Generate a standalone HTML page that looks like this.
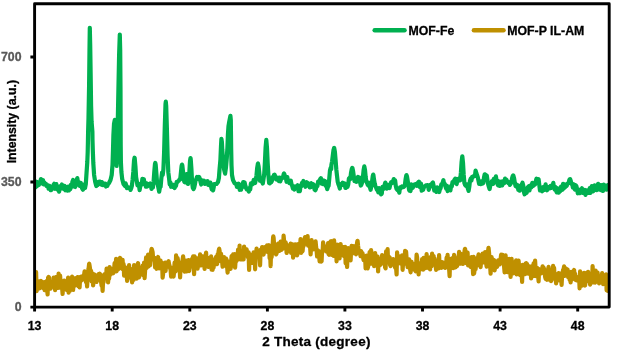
<!DOCTYPE html>
<html><head><meta charset="utf-8"><style>
html,body{margin:0;padding:0;background:#fff;}
body{width:629px;height:360px;overflow:hidden;}
svg{display:block;}
text{font-family:"Liberation Sans",Arial,sans-serif;font-weight:bold;stroke:currentColor;stroke-width:0.3px;}
</style></head><body>
<svg width="629" height="360" viewBox="0 0 629 360">
<rect x="0" y="0" width="629" height="360" fill="#fff"/>
<defs><clipPath id="pa"><rect x="34.6" y="0" width="574.1" height="320"/></clipPath></defs>
<g fill="none" stroke-linejoin="round" stroke-linecap="round" stroke-width="4.2" clip-path="url(#pa)">
<polyline stroke="#BF9000" points="34.6,281.9 35.1,279.4 35.6,280.6 36.1,272.0 36.6,291.2 37.1,288.4 37.6,281.9 38.1,287.0 38.6,284.9 39.1,281.3 39.6,288.3 40.1,282.7 40.6,282.8 41.1,281.0 41.6,286.8 42.1,284.6 42.6,287.8 43.1,282.8 43.6,286.4 44.1,282.0 44.6,290.1 45.1,287.3 45.6,287.7 46.1,287.8 46.6,281.2 47.1,289.0 47.6,294.5 48.1,277.6 48.6,276.9 49.1,277.7 49.6,288.0 50.1,284.5 50.6,288.6 51.1,286.8 51.6,284.3 52.1,284.4 52.6,282.2 53.1,286.7 53.6,277.5 54.1,280.5 54.6,283.3 55.1,290.1 55.6,278.6 56.1,277.1 56.6,279.5 57.1,286.4 57.6,280.9 58.1,288.0 58.6,273.6 59.1,287.1 59.6,286.7 60.1,275.7 60.6,283.0 61.1,288.0 61.6,283.2 62.1,287.5 62.6,294.0 63.1,284.8 63.6,282.5 64.1,280.6 64.6,287.2 65.1,283.8 65.6,284.6 66.1,285.7 66.6,289.8 67.1,282.9 67.6,281.5 68.1,277.7 68.6,292.6 69.1,286.0 69.6,291.0 70.1,282.9 70.6,279.5 71.1,284.8 71.6,282.2 72.1,276.7 72.6,278.2 73.1,290.0 73.6,283.5 74.1,283.6 74.6,280.4 75.1,278.4 75.6,285.5 76.1,280.9 76.6,277.9 77.1,280.7 77.6,277.2 78.1,282.0 78.6,286.2 79.1,277.3 79.6,287.5 80.1,277.9 80.6,281.3 81.1,276.5 81.6,279.0 82.1,279.9 82.6,277.4 83.1,275.9 83.6,275.7 84.1,274.8 84.6,271.4 85.1,277.3 85.6,280.2 86.1,282.3 86.6,280.9 87.1,286.5 87.6,277.2 88.1,272.0 88.6,268.4 89.1,263.9 89.2,263.8 89.6,265.7 90.1,269.4 90.6,275.8 91.1,270.9 91.6,281.4 92.1,277.3 92.6,273.7 93.1,285.5 93.6,281.4 94.1,278.2 94.6,274.6 95.1,277.8 95.6,277.4 96.1,281.5 96.6,281.9 97.1,275.4 97.6,276.1 98.1,276.4 98.6,274.1 99.1,276.1 99.6,274.7 100.0,273.8 100.1,274.5 100.6,280.6 101.1,281.9 101.6,285.6 102.1,280.9 102.6,291.0 103.1,280.6 103.6,282.1 104.1,274.6 104.6,274.2 105.1,277.8 105.6,274.8 106.1,277.7 106.6,268.7 107.1,278.3 107.6,270.9 108.1,282.3 108.6,272.8 109.1,278.7 109.6,267.0 110.1,274.8 110.6,268.4 111.1,269.7 111.6,271.5 112.1,269.5 112.6,271.6 113.1,273.3 113.6,272.6 114.1,269.1 114.6,263.1 115.1,265.3 115.6,267.7 116.1,258.8 116.6,271.3 117.1,266.6 117.6,266.2 118.1,269.5 118.6,266.5 119.1,262.4 119.6,258.7 120.0,257.9 120.1,258.0 120.6,260.3 121.1,262.1 121.6,268.5 122.1,268.7 122.6,259.9 123.1,269.4 123.6,264.0 124.1,275.6 124.6,275.0 125.1,267.1 125.6,268.6 126.1,273.6 126.6,272.5 127.1,281.0 127.6,277.9 128.1,273.7 128.6,277.1 129.1,265.0 129.6,275.2 130.1,277.4 130.6,272.7 131.1,270.3 131.6,276.0 132.1,282.3 132.6,274.4 133.1,268.5 133.6,280.0 134.1,265.0 134.6,275.8 135.1,270.8 135.6,277.4 136.1,269.1 136.6,278.7 137.1,273.8 137.6,264.4 138.1,263.1 138.6,270.3 139.1,277.3 139.6,271.8 140.1,271.3 140.6,269.7 141.1,274.0 141.6,272.2 142.1,271.6 142.6,265.7 143.1,275.2 143.6,275.3 144.1,262.7 144.6,278.2 145.1,270.5 145.6,264.3 146.1,257.3 146.6,268.0 147.1,266.7 147.6,260.7 148.1,254.7 148.6,266.3 149.1,258.6 149.6,258.8 150.1,265.1 150.6,258.0 151.1,251.6 151.6,248.8 151.7,248.8 152.1,250.2 152.6,252.0 153.1,258.5 153.6,259.4 154.1,258.7 154.6,257.9 155.1,267.3 155.6,265.4 156.1,265.7 156.6,268.8 157.1,261.2 157.6,259.4 158.1,257.0 158.6,263.5 159.1,268.4 159.6,264.3 160.1,268.1 160.6,260.7 161.1,264.7 161.6,264.2 162.1,262.9 162.6,277.7 163.1,273.8 163.6,266.3 164.1,266.1 164.6,269.1 165.1,262.7 165.6,270.9 166.1,262.9 166.6,266.9 167.1,263.7 167.6,266.0 168.1,262.1 168.6,261.3 169.1,264.3 169.6,265.9 170.1,267.9 170.6,269.9 171.1,276.7 171.6,273.8 172.1,269.3 172.6,274.0 173.1,267.7 173.6,276.6 174.1,271.8 174.6,262.5 175.1,271.3 175.6,271.4 176.1,255.4 176.6,263.8 177.1,264.8 177.6,258.0 178.1,261.6 178.6,261.9 179.1,268.2 179.6,267.1 180.1,277.3 180.6,263.6 181.1,270.5 181.6,265.5 182.1,266.3 182.6,259.8 183.1,256.3 183.6,261.3 184.1,268.1 184.6,271.7 185.1,267.2 185.6,266.7 186.1,260.7 186.6,271.4 187.1,270.5 187.6,262.1 188.1,264.3 188.6,260.0 189.1,271.1 189.6,266.3 190.1,264.1 190.6,266.3 191.1,266.4 191.6,262.5 192.1,258.7 192.6,258.5 193.1,256.4 193.6,266.2 194.1,274.1 194.6,256.4 195.1,264.6 195.6,265.7 196.1,259.2 196.6,264.4 197.1,258.4 197.6,268.6 198.1,260.4 198.6,263.4 199.1,265.8 199.6,260.7 200.1,254.4 200.6,259.8 201.1,265.4 201.6,261.3 202.1,262.5 202.6,256.3 203.1,261.6 203.6,264.0 204.1,260.6 204.6,268.8 205.1,259.1 205.6,255.3 206.1,252.6 206.6,265.0 207.1,259.5 207.6,264.3 208.1,261.7 208.6,267.0 209.1,265.3 209.6,257.8 210.1,261.0 210.6,265.7 211.1,256.4 211.6,269.7 212.1,269.7 212.6,269.8 213.1,265.6 213.6,267.5 214.1,259.6 214.6,263.4 215.1,259.0 215.6,260.6 216.1,256.8 216.6,260.4 217.1,264.2 217.6,254.4 218.1,259.7 218.6,251.2 219.1,248.9 219.2,248.8 219.6,251.0 220.1,256.5 220.6,260.9 221.1,253.8 221.6,260.4 222.1,261.4 222.6,266.7 223.1,260.8 223.6,263.8 224.1,257.2 224.6,261.0 225.1,260.1 225.6,265.8 226.1,258.7 226.6,259.8 227.1,266.7 227.6,272.7 228.1,266.6 228.6,265.5 229.1,261.8 229.6,267.5 230.1,264.3 230.6,268.9 231.1,262.0 231.6,256.1 232.1,257.7 232.6,255.7 233.1,254.5 233.6,265.7 234.1,263.5 234.6,254.2 235.1,267.7 235.6,260.7 236.1,255.1 236.6,260.9 237.1,258.5 237.6,255.1 238.1,249.5 238.6,258.1 239.1,259.0 239.6,245.7 240.1,259.5 240.6,259.5 241.1,254.3 241.6,256.3 242.1,254.0 242.6,250.9 243.1,252.4 243.6,259.5 244.1,246.6 244.6,254.7 245.1,254.9 245.6,251.4 246.1,253.1 246.6,249.3 247.1,252.2 247.6,256.2 248.1,257.7 248.6,252.4 249.1,270.0 249.6,254.1 250.1,257.3 250.6,255.9 251.1,255.2 251.6,262.9 252.1,254.8 252.6,263.0 253.1,262.1 253.6,252.3 254.1,261.7 254.6,254.1 255.1,269.3 255.6,255.3 256.1,252.8 256.6,248.7 257.1,251.7 257.6,255.2 258.1,253.6 258.6,252.8 259.1,255.4 259.6,257.9 260.1,265.3 260.6,249.8 261.1,253.8 261.6,250.7 262.1,247.0 262.6,247.3 263.1,248.1 263.6,254.6 264.1,249.6 264.6,247.2 265.1,251.8 265.6,250.3 266.1,248.0 266.6,250.7 267.1,245.3 267.6,251.8 268.1,251.3 268.6,248.0 269.1,245.2 269.6,258.2 270.1,252.6 270.6,266.2 271.1,250.8 271.6,257.3 272.1,251.4 272.6,245.9 273.1,237.6 273.3,236.3 273.6,237.6 274.1,244.8 274.6,250.0 275.1,250.7 275.6,252.7 276.1,254.4 276.6,253.3 277.1,250.4 277.6,247.4 278.1,243.6 278.6,245.0 279.1,245.7 279.6,250.8 280.1,245.8 280.6,241.7 281.1,250.0 281.6,243.4 282.1,243.4 282.6,245.7 283.1,248.7 283.6,235.6 284.1,241.2 284.6,246.9 285.1,244.4 285.6,242.4 286.1,244.1 286.6,253.0 287.1,245.0 287.6,250.5 288.1,251.1 288.6,245.8 289.1,250.0 289.6,246.3 290.1,245.8 290.6,243.6 291.1,252.8 291.6,247.2 292.1,246.7 292.6,244.3 293.1,257.7 293.6,253.3 294.1,249.8 294.6,247.7 295.1,244.4 295.6,253.0 296.1,253.1 296.6,244.7 297.1,255.4 297.6,252.8 298.1,244.2 298.6,245.2 299.1,245.0 299.6,247.5 300.1,245.9 300.6,239.0 301.1,252.8 301.6,247.4 302.1,251.5 302.6,251.1 303.1,244.6 303.6,246.0 304.1,244.0 304.6,239.1 305.0,237.1 305.1,237.2 305.6,239.7 306.1,243.7 306.6,242.0 307.1,242.7 307.6,236.2 308.1,245.7 308.6,240.8 309.1,243.0 309.6,245.4 310.1,247.2 310.6,254.4 311.1,247.0 311.6,240.1 312.1,247.4 312.6,244.5 313.1,249.4 313.6,244.9 314.1,245.1 314.6,246.4 315.1,246.3 315.6,241.4 316.1,247.1 316.6,250.5 317.1,256.5 317.6,250.3 318.1,250.5 318.6,255.4 319.1,255.9 319.6,261.3 320.1,257.4 320.6,255.4 321.1,261.7 321.6,261.1 322.1,250.6 322.6,251.9 323.1,242.4 323.6,248.4 324.1,246.0 324.6,249.0 325.1,247.8 325.6,249.0 326.1,249.1 326.6,251.6 327.1,250.2 327.6,246.4 328.1,243.0 328.6,254.1 329.1,254.7 329.6,246.1 330.1,250.5 330.6,241.3 331.1,241.2 331.6,247.1 332.1,255.0 332.6,243.8 333.1,244.9 333.6,256.0 334.1,240.3 334.6,251.8 335.1,251.2 335.6,248.3 336.1,250.2 336.6,261.3 337.1,244.6 337.6,248.5 338.1,249.0 338.6,247.3 339.1,244.8 339.6,258.4 340.1,252.6 340.6,244.0 341.1,249.2 341.6,254.5 342.1,254.9 342.6,246.9 343.1,253.3 343.6,255.2 344.1,256.2 344.6,256.5 345.1,246.8 345.6,263.1 346.1,255.5 346.6,262.5 347.1,267.0 347.6,253.2 348.1,248.2 348.6,257.4 349.1,252.5 349.6,251.1 350.1,248.3 350.6,260.3 351.1,250.5 351.6,245.9 352.1,249.9 352.6,246.5 353.1,252.2 353.6,249.3 354.1,246.2 354.6,253.4 355.1,247.7 355.6,253.6 356.1,254.2 356.6,247.0 357.1,242.5 357.5,240.8 357.6,241.0 358.1,246.0 358.6,249.9 359.1,252.3 359.6,252.2 360.1,254.0 360.6,256.2 361.1,251.0 361.6,252.7 362.1,255.8 362.6,253.4 363.1,257.7 363.6,260.2 364.1,258.4 364.6,256.4 365.1,256.3 365.6,268.3 366.1,264.9 366.6,255.6 367.1,256.5 367.6,268.4 368.1,266.5 368.6,260.0 369.1,264.3 369.6,252.1 370.1,258.5 370.6,261.9 371.1,250.2 371.6,255.1 372.1,262.2 372.6,263.9 373.1,256.1 373.6,260.2 374.1,266.1 374.6,257.2 375.1,253.0 375.6,259.0 376.1,257.8 376.6,265.7 377.1,260.8 377.6,256.7 378.1,271.4 378.6,258.5 379.1,263.2 379.6,264.3 380.1,265.0 380.6,262.3 381.1,264.1 381.6,261.2 382.1,255.1 382.6,260.5 383.1,260.6 383.6,260.7 384.1,262.1 384.6,258.7 385.1,267.4 385.6,268.4 386.1,251.3 386.6,261.1 387.1,257.7 387.6,249.0 388.1,262.4 388.6,257.6 389.1,258.6 389.6,257.2 390.1,265.0 390.6,266.1 391.1,262.1 391.6,264.4 392.1,261.2 392.6,262.7 393.1,259.1 393.6,263.0 394.1,260.1 394.6,265.4 395.1,267.6 395.6,264.8 396.1,268.2 396.6,274.5 397.1,252.4 397.6,261.5 398.1,258.6 398.6,259.7 399.1,256.3 399.6,263.2 400.1,262.5 400.6,261.4 401.1,263.7 401.6,262.8 402.1,255.3 402.6,269.8 403.1,262.7 403.6,258.9 404.1,263.7 404.6,258.5 405.1,250.8 405.6,263.7 406.1,251.6 406.6,258.8 407.1,260.9 407.6,267.1 408.1,267.0 408.6,263.0 409.1,259.4 409.6,261.6 410.1,268.9 410.6,272.3 411.1,267.0 411.6,261.9 412.1,269.7 412.6,263.6 413.1,263.7 413.6,264.5 414.1,268.6 414.6,267.0 415.1,270.1 415.6,271.3 416.1,267.6 416.6,254.6 417.1,257.3 417.6,265.6 418.1,264.5 418.6,274.4 419.1,264.5 419.6,263.9 420.1,268.7 420.6,269.2 421.1,263.3 421.6,266.5 422.1,259.2 422.6,260.0 423.1,269.7 423.6,257.8 424.1,268.2 424.6,267.1 425.1,267.5 425.6,268.0 426.1,266.4 426.6,254.2 427.1,259.3 427.6,261.0 428.1,267.8 428.6,258.6 429.1,260.4 429.6,261.9 430.1,269.4 430.6,257.0 431.1,257.3 431.6,266.2 432.1,253.7 432.6,264.7 433.1,261.1 433.6,256.0 434.1,261.2 434.6,258.5 435.1,263.8 435.6,264.8 436.1,269.9 436.6,263.3 437.1,263.9 437.6,260.9 438.1,263.5 438.6,268.4 439.1,255.2 439.6,266.9 440.1,261.6 440.6,264.3 441.1,265.5 441.6,267.8 442.1,265.1 442.6,262.2 443.1,265.4 443.6,264.1 444.1,263.1 444.6,264.9 445.1,267.9 445.6,264.4 446.1,264.4 446.6,257.7 447.1,262.8 447.6,254.9 448.1,266.3 448.6,258.7 449.1,268.6 449.6,276.1 450.1,260.7 450.6,268.4 451.1,264.1 451.6,259.7 452.1,258.3 452.6,264.5 453.1,268.2 453.6,263.4 454.1,254.9 454.6,256.9 455.1,260.4 455.6,267.4 456.1,262.3 456.6,262.3 457.1,266.1 457.6,259.5 458.1,259.9 458.6,259.2 459.1,251.9 459.6,261.8 460.1,261.3 460.6,263.7 461.1,253.8 461.6,255.4 462.1,263.1 462.6,260.1 463.1,264.0 463.6,255.1 464.1,255.6 464.6,250.5 465.0,248.8 465.1,249.0 465.6,252.6 466.1,258.7 466.6,263.2 467.1,262.9 467.6,252.6 468.1,265.4 468.6,263.8 469.1,257.8 469.6,259.1 470.1,263.8 470.6,267.0 471.1,262.9 471.6,257.2 472.1,265.3 472.6,264.4 473.1,274.1 473.6,256.9 474.1,273.6 474.6,269.7 475.1,262.9 475.6,269.0 476.1,261.9 476.6,265.9 477.1,258.2 477.6,261.9 478.1,256.9 478.6,254.4 479.1,260.3 479.6,258.5 480.1,264.1 480.6,267.2 481.1,260.6 481.6,261.6 482.1,262.1 482.6,253.7 483.1,262.4 483.6,261.2 484.1,260.9 484.6,256.1 485.1,252.1 485.6,260.0 486.1,262.6 486.6,266.6 487.1,264.1 487.6,259.6 488.1,250.7 488.5,247.9 488.6,248.1 489.1,253.3 489.6,260.8 490.1,265.0 490.6,273.6 491.1,263.6 491.6,257.1 492.1,269.2 492.6,259.7 493.1,263.3 493.6,262.5 494.1,260.0 494.6,270.3 495.1,267.2 495.6,261.6 496.1,264.6 496.6,262.2 497.1,266.8 497.6,262.3 498.1,260.4 498.6,260.9 499.1,261.8 499.6,264.5 500.1,259.8 500.6,258.9 501.1,255.1 501.3,254.6 501.6,256.4 502.1,261.7 502.6,254.9 503.1,262.6 503.6,263.2 504.1,266.6 504.6,272.4 505.1,268.9 505.6,255.3 506.1,267.1 506.6,266.3 507.1,267.8 507.6,272.1 508.1,261.2 508.6,271.2 509.1,258.9 509.6,266.6 510.1,268.2 510.6,276.8 511.1,263.3 511.6,258.9 512.1,269.6 512.6,263.5 513.1,273.5 513.6,263.3 514.1,262.6 514.6,272.1 515.1,266.9 515.6,271.2 516.1,260.4 516.6,274.4 517.1,264.5 517.6,271.0 518.1,262.9 518.6,260.6 519.1,266.6 519.6,268.7 520.1,275.1 520.6,269.7 521.1,271.4 521.6,271.3 522.1,281.9 522.6,264.8 523.1,274.3 523.6,268.0 524.1,270.0 524.6,266.5 525.1,274.2 525.6,263.4 526.1,263.2 526.6,268.2 527.1,264.0 527.6,272.4 528.1,273.5 528.6,266.0 529.1,272.9 529.6,266.5 530.1,269.3 530.6,269.8 531.1,278.4 531.6,270.1 532.1,266.2 532.6,266.4 533.1,276.1 533.6,263.4 534.1,269.0 534.6,269.6 535.1,260.5 535.6,269.5 536.1,276.2 536.6,272.9 537.1,267.9 537.6,275.1 538.1,274.4 538.6,281.3 539.1,269.0 539.6,270.7 540.1,272.7 540.6,272.1 541.1,273.3 541.6,272.7 542.1,270.2 542.6,266.3 543.1,271.2 543.6,267.7 544.1,269.4 544.6,271.9 545.1,276.8 545.6,278.8 546.1,270.7 546.6,277.2 547.1,279.8 547.6,276.4 548.1,269.5 548.6,266.8 549.1,279.7 549.6,279.8 550.1,276.6 550.6,270.2 551.1,281.1 551.6,279.7 552.1,273.8 552.6,273.3 553.1,265.8 553.6,278.3 554.1,267.9 554.6,278.6 555.1,279.1 555.6,276.6 556.1,283.4 556.6,274.6 557.1,278.5 557.6,279.2 558.1,276.5 558.6,273.2 559.1,280.4 559.6,276.5 560.1,273.5 560.6,273.7 561.1,275.1 561.6,284.8 562.1,275.1 562.6,273.6 563.1,269.9 563.6,269.3 564.1,266.3 564.6,275.9 565.1,275.0 565.6,270.4 566.1,268.5 566.6,273.9 567.1,273.1 567.6,269.6 568.1,277.2 568.6,276.6 569.1,275.9 569.6,279.7 570.1,273.4 570.6,282.5 571.1,271.9 571.6,278.8 572.1,279.4 572.6,275.5 573.1,278.3 573.6,270.9 574.1,270.0 574.6,275.9 575.1,273.6 575.6,279.8 576.1,277.5 576.6,280.4 577.1,279.3 577.6,279.1 578.1,278.8 578.6,277.0 579.1,276.8 579.6,288.3 580.1,271.4 580.6,278.5 581.1,283.8 581.6,281.1 582.1,285.6 582.6,281.7 583.1,273.5 583.6,277.6 584.1,272.8 584.6,283.5 585.1,285.5 585.6,277.0 586.1,281.4 586.6,277.1 587.1,272.5 587.6,276.9 588.1,271.8 588.6,276.3 589.1,279.8 589.6,282.1 590.1,284.6 590.6,277.3 591.1,279.9 591.6,280.8 592.1,281.4 592.6,266.1 593.1,275.4 593.6,282.5 594.1,273.9 594.6,280.1 595.1,282.7 595.6,270.5 596.1,278.3 596.6,280.3 597.1,279.4 597.6,272.5 598.1,281.0 598.6,277.0 599.1,283.3 599.6,281.6 600.1,277.3 600.6,280.7 601.1,276.9 601.6,277.0 602.1,273.2 602.6,279.3 603.1,284.1 603.6,281.1 604.1,280.6 604.6,278.0 605.1,278.6 605.6,284.3 606.1,274.3 606.6,290.3 607.1,280.7 607.6,290.8 608.1,286.3 608.6,279.2 608.7,284.4"/>
<polyline stroke="#00B050" points="34.6,185.3 35.3,187.4 36.0,181.5 36.7,186.3 37.4,182.1 38.1,182.6 38.8,185.0 39.5,182.2 40.2,182.9 40.9,179.1 41.6,183.4 42.3,181.8 43.0,180.2 43.7,184.3 44.4,182.5 45.1,184.6 45.8,183.7 46.5,185.9 47.2,184.9 47.9,185.5 48.6,188.7 49.3,185.8 50.0,187.1 50.7,190.2 51.4,190.0 52.1,188.4 52.8,186.9 53.5,184.9 54.2,183.8 54.9,188.8 55.6,186.1 56.3,184.1 57.0,187.9 57.7,189.7 58.4,189.3 59.1,191.7 59.8,186.3 60.5,189.0 61.2,187.8 61.9,184.5 62.6,187.6 63.3,188.8 64.0,187.5 64.7,186.0 65.4,190.3 66.1,188.7 66.8,189.1 67.5,190.5 68.2,186.5 68.9,190.5 69.6,189.3 70.3,189.3 71.0,184.5 71.7,187.0 72.4,181.8 73.1,180.0 73.8,185.6 74.5,186.6 75.2,187.0 75.9,183.1 76.6,180.3 77.3,178.1 78.0,183.1 78.7,184.6 79.4,185.8 80.1,182.7 80.8,183.0 81.5,186.6 82.2,188.5 82.9,189.7 83.6,184.7 84.3,186.9 85.0,188.0 85.8,184.0 86.6,172.0 87.3,162.0 87.7,152.0 87.9,143.0 88.1,132.0 88.5,118.0 89.1,85.0 89.5,50.0 89.8,27.9 90.2,45.0 90.7,78.0 91.1,106.0 91.6,122.0 92.1,128.0 92.4,132.0 92.5,140.0 92.8,150.0 93.3,163.0 94.1,175.0 95.2,182.0 96.3,186.0 97.0,185.0 97.6,185.1 98.3,182.0 99.0,183.6 99.7,181.6 100.4,183.5 101.1,184.4 101.8,182.1 102.5,185.0 103.2,183.1 103.9,185.2 104.6,184.9 105.3,183.6 106.0,186.5 106.7,184.9 107.4,185.8 107.5,185.0 109.0,183.0 110.5,180.0 111.7,175.0 112.5,165.0 113.0,150.0 113.4,135.0 114.0,124.0 114.8,119.8 115.4,128.0 115.9,145.0 116.3,160.0 116.6,166.0 117.0,160.0 117.6,130.0 118.4,90.0 119.1,55.0 119.8,34.6 120.2,50.0 120.5,90.0 120.6,120.0 120.7,145.0 120.9,162.0 121.4,172.0 122.2,179.0 123.5,184.0 125.0,186.0 125.6,183.4 126.3,185.4 127.0,188.2 127.7,187.1 128.4,187.6 129.1,188.0 129.8,187.5 130.5,189.9 131.2,188.2 131.9,185.6 132.6,179.7 133.3,171.9 134.0,160.9 134.5,157.7 134.7,158.1 135.4,166.1 136.1,177.1 136.8,181.2 137.5,185.4 138.2,184.9 138.9,183.9 139.6,190.1 140.3,186.2 141.0,183.3 141.7,184.7 142.4,178.8 143.1,181.9 143.8,179.2 144.5,183.0 145.2,183.6 145.9,186.7 146.6,183.3 147.3,186.5 148.0,184.0 148.7,184.7 149.4,184.2 150.1,183.6 150.8,184.9 151.5,188.9 152.2,184.7 152.9,187.4 153.6,181.4 154.3,171.7 155.0,163.8 155.3,162.9 155.7,164.8 156.4,173.9 157.1,182.8 157.8,184.8 158.5,188.4 159.2,191.7 159.9,187.5 160.6,186.7 161.3,178.8 162.0,173.1 162.0,172.6 162.7,174.9 163.4,169.3 164.1,152.7 164.8,126.0 165.5,104.3 165.8,101.7 166.2,105.9 166.9,128.7 167.6,155.7 168.3,172.2 169.0,177.8 169.7,184.3 170.4,182.5 171.1,186.8 171.8,186.1 172.5,186.8 173.2,184.8 173.9,185.7 174.6,188.0 175.3,185.9 176.0,185.8 176.7,181.8 177.4,182.0 178.1,181.2 178.8,180.8 179.5,179.4 180.2,179.5 180.9,172.6 181.6,166.0 182.0,164.6 182.3,165.3 183.0,171.6 183.7,179.1 184.4,182.0 185.1,182.3 185.8,177.0 186.5,174.1 186.5,174.1 187.2,179.0 187.9,184.0 188.6,180.7 189.3,173.4 190.0,161.1 190.5,158.1 190.7,158.9 191.4,168.7 192.1,182.3 192.8,187.8 193.5,189.1 194.2,187.6 194.9,184.3 195.6,180.2 196.3,179.2 197.0,177.0 197.7,178.9 198.4,178.0 199.1,176.9 199.8,178.5 200.5,181.8 201.2,184.5 201.9,180.4 202.6,181.1 203.3,182.4 204.0,180.6 204.7,183.9 205.4,182.0 206.1,182.4 206.8,182.4 207.5,181.1 208.2,185.0 208.9,184.3 209.6,185.1 210.3,182.6 211.0,186.3 211.7,189.3 212.4,187.6 213.1,190.4 213.8,186.9 214.0,184.0 216.5,184.0 218.0,182.0 218.9,178.0 219.5,170.0 220.4,160.0 221.0,146.0 221.4,138.8 221.9,142.0 222.3,150.0 223.2,162.0 224.2,170.0 225.1,173.6 225.9,168.0 226.8,158.0 227.4,148.0 227.9,135.0 228.5,126.0 229.0,123.0 229.8,119.0 230.4,115.8 230.8,120.0 231.0,135.0 231.2,150.0 231.5,165.0 232.0,175.0 233.0,180.0 234.5,183.0 236.5,184.5 236.9,187.0 237.6,184.2 238.3,183.7 239.0,184.0 239.7,189.8 240.4,187.9 241.1,189.7 241.8,185.3 242.5,187.1 243.2,182.1 243.9,182.2 244.6,182.4 245.3,185.7 246.0,187.9 246.7,189.4 247.4,189.4 248.1,189.7 248.8,191.5 249.5,187.8 250.2,189.5 250.9,183.4 251.6,184.4 252.3,184.3 253.0,183.5 253.7,179.9 254.4,180.2 255.1,183.0 255.8,179.9 256.5,175.3 257.2,167.8 257.9,163.7 258.0,163.6 258.6,166.4 259.3,173.0 260.0,180.7 260.7,178.7 261.4,181.4 262.1,180.1 262.8,183.5 263.5,179.0 264.2,174.1 264.9,162.5 265.6,147.4 266.3,139.9 266.3,139.9 267.0,148.0 267.7,163.3 268.4,175.3 269.1,183.0 269.8,183.4 270.5,179.1 271.2,182.2 271.9,180.9 272.6,177.2 273.3,177.7 274.0,175.0 274.5,174.6 274.7,174.9 275.4,177.4 276.1,179.4 276.8,179.5 277.5,179.8 278.2,177.7 278.9,181.1 279.6,177.6 280.3,181.4 281.0,179.2 281.7,178.6 282.4,178.1 283.1,176.6 283.8,173.8 284.0,173.6 284.5,174.5 285.2,177.6 285.9,178.0 286.6,181.8 287.3,177.1 288.0,181.8 288.7,181.9 289.4,183.1 290.1,182.2 290.8,180.7 291.5,184.2 292.2,185.8 292.9,188.6 293.6,187.6 294.3,189.6 295.0,186.4 295.7,186.9 296.4,187.7 297.1,186.9 297.8,185.3 298.5,191.2 299.2,190.2 299.9,191.1 300.6,185.4 301.3,186.4 302.0,183.0 302.7,184.0 303.4,181.0 304.1,184.5 304.8,185.3 305.5,186.7 306.2,183.8 306.9,182.3 307.6,184.4 308.3,185.3 309.0,183.6 309.7,187.5 310.4,183.8 311.1,183.3 311.8,186.8 312.5,184.9 313.2,184.2 313.9,184.9 314.6,189.6 315.3,190.2 316.0,188.8 316.7,185.0 317.4,186.2 318.1,181.7 318.8,181.1 319.5,181.2 320.2,179.1 320.9,178.2 321.6,183.6 322.3,180.0 323.0,184.2 323.7,180.6 324.4,180.8 325.1,181.3 325.8,185.9 326.5,185.8 327.2,189.1 327.9,186.9 328.6,185.9 329.3,178.3 330.0,170.3 330.7,167.7 331.2,169.1 331.4,164.8 332.1,161.3 332.8,155.5 333.5,149.9 334.2,147.9 334.2,147.8 334.9,151.8 335.6,160.2 336.3,169.2 337.0,175.7 337.7,181.7 338.4,184.3 339.1,186.0 339.8,188.5 340.5,184.7 341.2,184.0 341.9,184.9 342.6,182.7 343.3,185.1 344.0,185.3 344.7,183.4 345.4,188.0 346.1,187.7 346.8,185.4 347.5,186.9 348.2,184.7 348.9,178.6 349.6,177.7 350.3,179.1 351.0,173.0 351.7,169.4 352.3,167.9 352.4,168.0 353.1,171.3 353.8,176.3 354.5,181.1 355.2,178.3 355.9,179.4 356.6,181.8 357.3,178.7 358.0,176.9 358.7,180.0 359.4,177.5 360.1,182.3 360.8,185.5 361.5,184.4 362.2,182.2 362.9,177.3 363.6,170.1 364.3,166.3 364.3,166.3 365.0,170.0 365.7,177.1 366.4,181.7 367.1,183.1 367.8,184.9 368.5,182.4 369.2,186.2 369.9,187.2 370.6,189.8 371.3,186.3 372.0,182.1 372.7,176.4 373.2,174.6 373.4,174.9 374.1,180.2 374.8,183.8 375.5,186.4 376.2,187.8 376.9,189.8 377.6,189.1 378.3,192.4 379.0,188.1 379.7,190.9 380.4,192.8 381.1,194.4 381.8,193.6 382.5,186.9 383.2,189.3 383.9,187.6 384.6,185.2 385.3,182.6 386.0,184.3 386.7,188.6 387.4,184.8 388.1,186.4 388.8,185.5 389.5,188.0 390.2,184.9 390.9,182.5 391.6,183.1 392.3,181.6 393.0,182.8 393.7,179.1 394.4,180.4 395.1,180.3 395.8,186.0 396.5,188.8 397.2,189.6 397.9,190.5 398.6,190.5 399.3,192.7 400.0,187.4 400.7,188.2 401.4,187.8 402.1,186.4 402.8,187.2 403.5,187.0 404.2,186.5 404.9,184.7 405.6,179.2 406.3,175.4 406.5,175.1 407.0,176.5 407.7,180.9 408.4,185.4 409.1,190.0 409.8,190.8 410.5,191.0 411.2,184.4 411.9,188.2 412.6,187.9 413.3,186.8 414.0,184.7 414.7,184.4 415.4,184.8 416.1,184.1 416.8,185.8 417.5,184.1 418.2,182.5 418.9,181.7 419.6,186.9 420.3,185.9 421.0,183.6 421.7,190.7 422.4,188.4 423.1,189.9 423.8,187.6 424.5,186.4 425.2,186.0 425.9,185.4 426.6,185.3 427.3,185.2 428.0,185.3 428.7,189.8 429.4,187.7 430.1,184.9 430.8,186.3 431.5,185.0 432.2,183.2 432.9,182.5 433.6,185.8 434.3,190.6 435.0,189.1 435.7,189.5 436.4,191.9 437.1,187.4 437.8,191.0 438.5,189.9 439.2,192.0 439.9,189.2 440.6,188.2 441.3,184.4 442.0,184.8 442.7,182.5 443.4,180.2 444.1,183.8 444.8,183.9 445.5,186.5 446.2,188.7 446.9,185.7 447.6,191.1 448.3,188.0 449.0,189.1 449.7,187.2 450.4,190.4 451.1,185.8 451.8,186.4 452.5,182.1 453.2,181.7 453.9,180.8 454.6,179.8 455.3,178.6 456.0,183.1 456.7,184.0 457.4,179.3 458.1,179.0 458.8,180.6 459.5,179.5 460.2,180.2 460.9,172.4 461.6,161.9 462.3,156.3 462.3,156.3 463.0,162.7 463.7,174.7 464.4,183.0 465.1,184.9 465.8,185.8 466.5,184.2 467.2,185.5 467.9,188.7 468.6,190.9 469.3,186.7 470.0,180.6 470.7,178.6 471.4,180.6 472.1,176.8 472.8,177.0 473.5,176.2 474.2,176.3 474.9,175.9 475.6,170.5 476.3,173.1 477.0,175.0 477.7,176.9 478.4,180.2 479.1,183.9 479.8,182.1 480.5,184.2 481.2,181.3 481.9,183.6 482.6,183.6 483.3,182.9 484.0,177.5 484.7,174.3 485.4,174.6 486.1,175.1 486.8,175.6 487.5,180.4 488.2,184.4 488.9,186.9 489.6,189.0 490.3,185.5 491.0,183.6 491.7,181.5 492.4,182.5 493.1,183.9 493.8,178.8 494.5,181.6 495.2,179.7 495.9,176.4 496.6,180.8 497.3,183.5 498.0,185.3 498.7,181.2 499.4,185.9 500.1,185.9 500.8,181.8 501.5,181.6 502.2,185.4 502.9,181.5 503.6,181.0 504.3,183.3 505.0,178.7 505.7,180.1 506.4,179.6 507.1,181.5 507.8,182.6 508.5,183.3 509.2,182.3 509.9,184.9 510.6,183.9 511.3,182.5 512.0,178.6 512.7,176.0 513.2,175.4 513.4,175.7 514.1,178.4 514.8,182.5 515.5,185.9 516.2,186.6 516.9,184.7 517.6,185.5 518.3,189.8 519.0,189.7 519.7,190.6 520.4,185.5 521.1,188.8 521.8,184.5 522.5,182.8 523.2,185.3 523.9,191.9 524.6,194.3 525.3,190.1 526.0,191.0 526.7,192.8 527.4,187.8 528.1,187.1 528.8,186.2 529.5,190.5 530.2,186.3 530.9,185.3 531.6,187.2 532.3,182.9 533.0,186.0 533.7,184.0 534.4,183.8 535.1,184.4 535.8,181.1 536.5,178.7 537.2,181.9 537.9,180.3 538.6,179.3 539.3,184.9 540.0,190.4 540.7,188.0 541.4,190.6 542.1,191.3 542.8,187.3 543.5,187.1 544.2,190.0 544.9,188.7 545.6,184.4 546.3,189.3 547.0,190.3 547.7,188.5 548.4,188.7 549.1,186.8 549.8,188.4 550.5,185.8 551.2,187.9 551.9,187.4 552.6,186.3 553.3,182.8 554.0,187.5 554.7,189.6 555.4,187.1 556.1,190.9 556.8,192.4 557.5,188.3 558.2,192.6 558.9,192.6 559.6,190.6 560.3,191.1 561.0,186.7 561.7,188.6 562.4,189.7 563.1,183.8 563.8,188.4 564.5,184.3 565.2,187.2 565.9,185.6 566.6,186.0 567.3,183.8 568.0,183.4 568.7,182.5 569.4,179.7 570.0,179.1 570.1,179.1 570.8,180.9 571.5,183.9 572.2,183.7 572.9,187.5 573.6,184.4 574.3,188.5 575.0,189.6 575.7,185.2 576.4,186.2 577.1,189.0 577.8,193.3 578.5,192.7 579.2,190.2 579.9,193.2 580.6,189.4 581.3,189.4 582.0,188.2 582.7,193.0 583.4,192.2 584.1,190.5 584.8,189.9 585.5,194.9 586.2,191.6 586.9,190.4 587.6,191.5 588.3,193.0 589.0,192.9 589.7,188.2 590.4,192.8 591.1,190.4 591.8,186.0 592.5,190.5 593.2,191.2 593.9,190.4 594.6,185.4 595.3,188.3 596.0,188.6 596.7,190.0 597.4,186.9 598.1,183.8 598.8,189.1 599.5,189.6 600.2,187.2 600.9,185.1 601.6,190.3 602.3,189.6 603.0,190.9 603.7,184.6 604.4,187.3 605.1,186.5 605.8,185.6 606.5,189.7 607.2,187.2 607.9,185.1 608.6,185.4 608.7,189.4"/>
</g>
<g stroke="#000" stroke-width="2.9" fill="none" stroke-linecap="round" stroke-linejoin="round">
<rect x="34.6" y="3.75" width="574.6" height="303.35"/>
<path stroke-linecap="butt" d="M30.4 307.1H34.6M30.4 182H34.6M30.4 57H34.6"/>
<path stroke-linecap="butt" d="M34.6 307.1V311.5M112.2 307V311.5M189.8 307V311.5M267.4 307V311.5M344.9 307V311.5M422.5 307V311.5M500.1 307V311.5M577.7 307V311.5"/>
</g>
<g font-size="12.3" fill="#595959" color="#595959" text-anchor="end">
<text x="21.5" y="61">700</text>
<text x="21.5" y="186">350</text>
<text x="21.5" y="311.3">0</text>
</g>
<g font-size="12.3" fill="#000" text-anchor="middle">
<text x="34.6" y="330.2">13</text>
<text x="112.2" y="330.2">18</text>
<text x="189.8" y="330.2">23</text>
<text x="267.4" y="330.2">28</text>
<text x="344.9" y="330.2">33</text>
<text x="422.5" y="330.2">38</text>
<text x="500.1" y="330.2">43</text>
<text x="577.7" y="330.2">48</text>
</g>
<text x="316.5" y="346" font-size="13.5" letter-spacing="0.25" text-anchor="middle" fill="#000">2 Theta (degree)</text>
<text transform="translate(16.2,121.7) rotate(-90)" font-size="12.3" text-anchor="middle" fill="#000">Intensity (a.u.)</text>
<line x1="374.7" y1="30.2" x2="404.5" y2="30.2" stroke="#00B050" stroke-width="4.5" stroke-linecap="round"/>
<text x="408.5" y="34.5" font-size="12.3" fill="#000">MOF-Fe</text>
<line x1="473.9" y1="30.2" x2="503.5" y2="30.2" stroke="#BF9000" stroke-width="4.5" stroke-linecap="round"/>
<text x="507.3" y="34.5" font-size="12.3" fill="#000">MOF-P IL-AM</text>
</svg>
</body></html>
